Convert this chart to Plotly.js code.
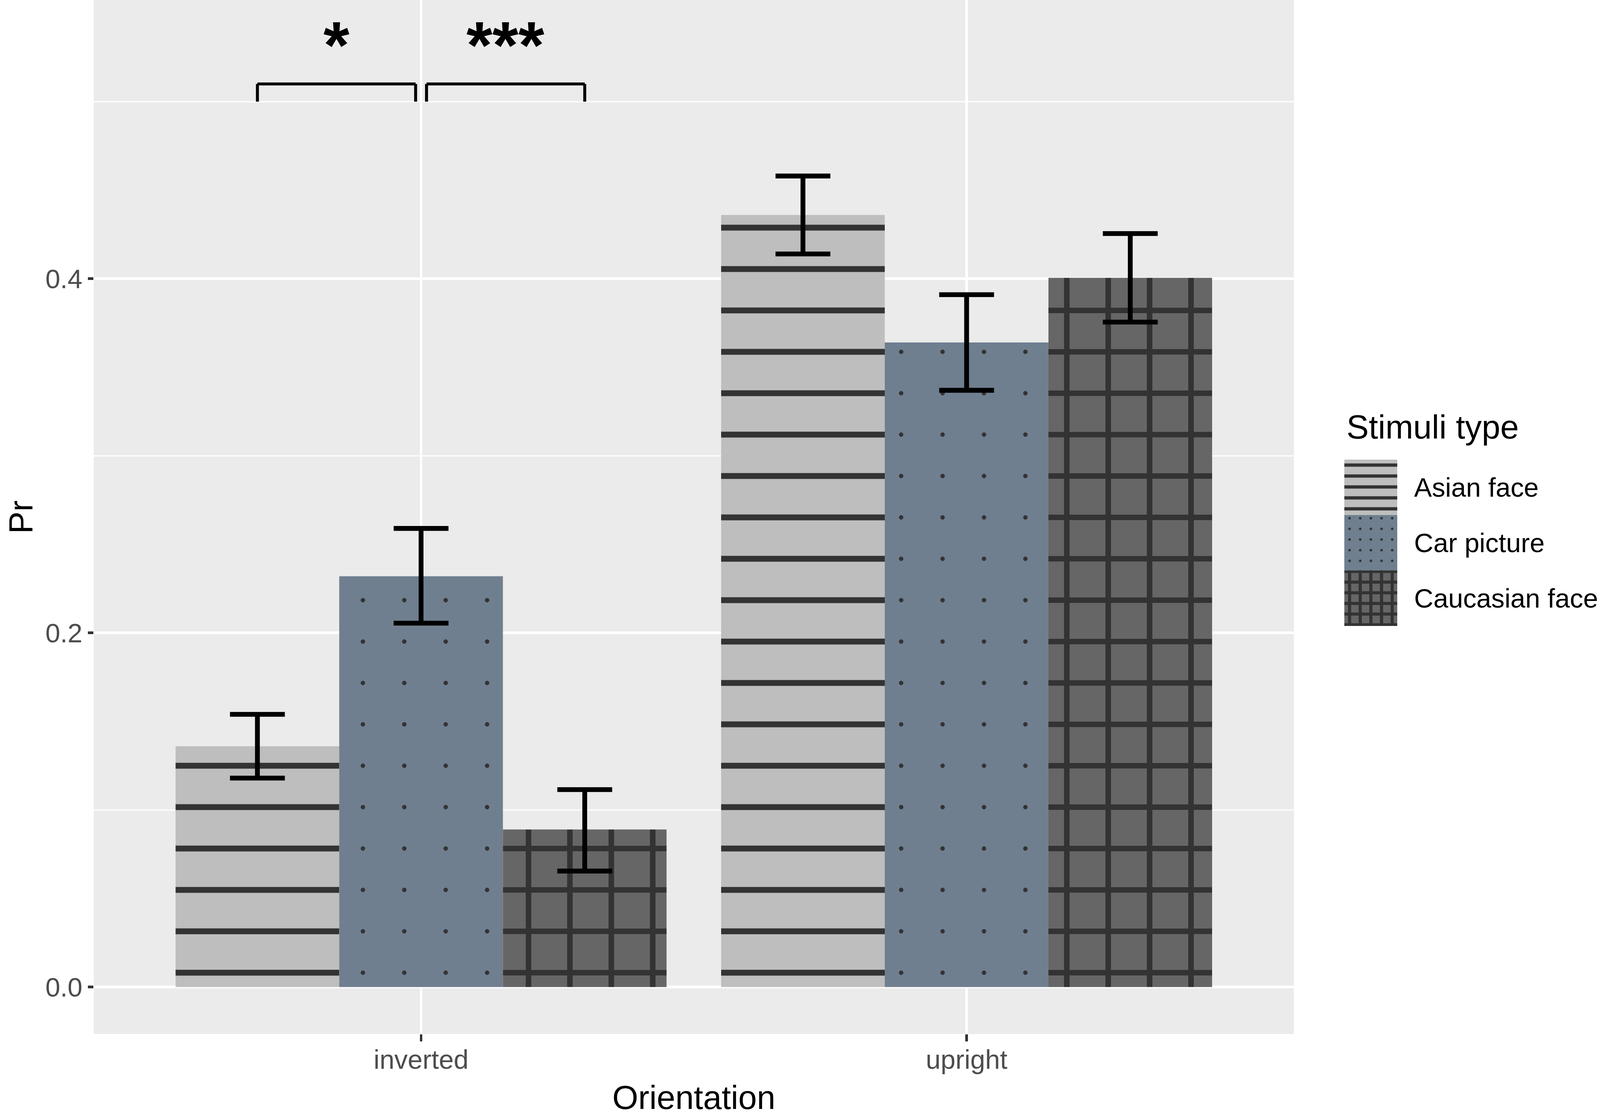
<!DOCTYPE html>
<html>
<head>
<meta charset="utf-8">
<script src="https://cdn.plot.ly/plotly-3.0.1.min.js"></script>
<style>
  html, body { margin: 0; padding: 0; background: #fff; overflow: hidden; }
</style>
</head>
<body>
<div id="myDiv"></div>
<script>
// values (mean Pr and error bar ends)
var categories = ['inverted', 'upright'];
var seriesNames = ['Asian face', 'Car picture', 'Caucasian face'];

var asianPr = [0.136, 0.436];
var asianHi = [0.154, 0.458];
var asianLo = [0.118, 0.414];

var carPr = [0.232, 0.364];
var carHi = [0.259, 0.391];
var carLo = [0.2055, 0.337];

var caucPr = [0.089, 0.4005];
var caucHi = [0.1115, 0.4255];
var caucLo = [0.0655, 0.3755];

// significance brackets (category index units)
var sigXmin = [-0.3, 0.01];
var sigXmax = [-0.01, 0.3];
var sigY = [0.51, 0.51];
var sigLabels = ['*', '***'];
var sigTip = 0.01;

// fit the page to whatever viewport we get (designed for 4317x2858)
var W = window.innerWidth || 4317;
var H = window.innerHeight || 2858;
var sx = W / 4317, sy = H / 2858, s = Math.min(sx, sy), sm = (sx + sy) / 2;
document.getElementById('myDiv').style.width = W + 'px';
document.getElementById('myDiv').style.height = H + 'px';

var FONT = 'Liberation Sans, Arial, sans-serif';
var INK = '#333333';

function fillMarker(fill, shape, size, solidity) {
  return {
    color: fill,
    line: { width: 0 },
    pattern: { shape: shape, size: size, solidity: solidity, fgcolor: INK, bgcolor: fill, fgopacity: 1 }
  };
}

function barTrace(name, y, hi, lo, marker) {
  return {
    type: 'bar',
    name: name,
    x: categories,
    y: y,
    marker: marker,
    error_y: {
      type: 'data',
      symmetric: false,
      array: hi.map(function (v, i) { return v - y[i]; }),
      arrayminus: lo.map(function (v, i) { return y[i] - v; }),
      color: '#000000',
      thickness: 13 * s,
      width: 74 * sx
    },
    showlegend: false,
    hoverinfo: 'skip'
  };
}

// legend keys drawn as bars in a small side panel
function keyTrace(name, marker) {
  return {
    type: 'bar',
    orientation: 'h',
    x: [1],
    y: [name],
    width: 1,
    offset: -0.5,
    xaxis: 'x2',
    yaxis: 'y2',
    marker: marker,
    showlegend: false,
    hoverinfo: 'skip'
  };
}

var data = [
  barTrace(seriesNames[0], asianPr, asianHi, asianLo, fillMarker('#BEBEBE', '-', 106 * sy, 0.14)),
  barTrace(seriesNames[1], carPr, carHi, carLo, fillMarker('#6F7F8F', '.', 106 * sy, 0.009)),
  barTrace(seriesNames[2], caucPr, caucHi, caucLo, fillMarker('#666666', '+', 106 * sy, 0.25)),
  keyTrace(seriesNames[0], fillMarker('#BEBEBE', '-', 28 * sy, 0.3)),
  keyTrace(seriesNames[1], fillMarker('#6F7F8F', '.', 28 * sm, 0.045)),
  keyTrace(seriesNames[2], fillMarker('#666666', '+', 28 * sm, 0.5))
];

var shapes = [{
  type: 'rect', xref: 'x domain', yref: 'y domain',
  x0: 0, x1: 1, y0: 0, y1: 1,
  fillcolor: '#EBEBEB', line: { width: 0 }, layer: 'below'
}];
var annotations = [];

sigLabels.forEach(function (lab, i) {
  var ln = { color: '#000000', width: 8 * s };
  shapes.push({ type: 'line', xref: 'x', yref: 'y', x0: sigXmin[i], x1: sigXmax[i], y0: sigY[i], y1: sigY[i], line: ln });
  shapes.push({ type: 'line', xref: 'x', yref: 'y', x0: sigXmin[i], x1: sigXmin[i], y0: sigY[i] - sigTip, y1: sigY[i], line: ln });
  shapes.push({ type: 'line', xref: 'x', yref: 'y', x0: sigXmax[i], x1: sigXmax[i], y0: sigY[i] - sigTip, y1: sigY[i], line: ln });
  annotations.push({
    x: (sigXmin[i] + sigXmax[i]) / 2, y: sigY[i], xref: 'x', yref: 'y',
    text: lab, showarrow: false, yanchor: 'bottom', yshift: 2 * sy,
    font: { family: FONT, size: 180 * s, color: '#000000', weight: 'bold' }
  });
});

annotations.push({
  xref: 'paper', yref: 'paper', x: 0.8312, y: 0.5872,
  xanchor: 'left', yanchor: 'middle', showarrow: false,
  text: 'Stimuli type',
  font: { family: FONT, size: 90 * s, color: '#000000' }
});

// y axis title, placed by hand so it can sit in the far left margin
annotations.push({
  xref: 'paper', yref: 'paper', x: -0.0485, y: 0.5,
  xanchor: 'center', yanchor: 'middle', showarrow: false,
  textangle: -90,
  text: 'Pr',
  font: { family: FONT, size: 90 * s, color: '#000000' }
});

var layout = {
  width: W,
  height: H,
  margin: { l: 253 * sx, r: 0, t: 0, b: 210 * sy, pad: 0 },
  paper_bgcolor: '#FFFFFF',
  plot_bgcolor: 'rgba(0,0,0,0)',
  font: { family: FONT, color: '#000000' },
  barmode: 'group',
  bargap: 0.1,
  bargroupgap: 0,
  showlegend: false,
  xaxis: {
    domain: [0, 0.7968],
    type: 'category',
    range: [-0.6, 1.6],
    showgrid: true,
    gridcolor: '#FFFFFF',
    gridwidth: 7 * s,
    zeroline: false,
    showline: false,
    ticks: 'outside',
    ticklen: 18 * sy,
    tickwidth: 7 * s,
    tickcolor: INK,
    ticklabelstandoff: -12,
    tickfont: { family: FONT, size: 72 * s, color: '#4D4D4D' },
    title: { text: 'Orientation', standoff: 44 * sy, font: { family: FONT, size: 90 * s, color: '#000000' } }
  },
  yaxis: {
    domain: [0, 1],
    range: [-0.0265, 0.5574],
    tick0: 0,
    dtick: 0.2,
    tickformat: '.1f',
    showgrid: true,
    gridcolor: '#FFFFFF',
    gridwidth: 7 * s,
    minor: { tick0: 0, dtick: 0.1, showgrid: true, gridcolor: '#FFFFFF', gridwidth: 3.5 * s, ticks: '' },
    zeroline: false,
    showline: false,
    ticks: 'outside',
    ticklen: 15 * sx,
    tickwidth: 7 * s,
    tickcolor: INK,
    ticklabelstandoff: 10 * sx,
    tickfont: { family: FONT, size: 72 * s, color: '#4D4D4D' }
  },
  xaxis2: {
    domain: [0.8302, 0.8654],
    anchor: 'y2',
    range: [0, 1],
    visible: false
  },
  yaxis2: {
    domain: [0.3946, 0.5555],
    anchor: 'x2',
    type: 'category',
    categoryorder: 'array',
    categoryarray: [seriesNames[2], seriesNames[1], seriesNames[0]],
    range: [-0.5, 2.5],
    side: 'right',
    showgrid: false,
    zeroline: false,
    showline: false,
    ticks: 'outside',
    ticklen: 30 * sx,
    tickcolor: 'rgba(0,0,0,0)',
    tickfont: { family: FONT, size: 72 * s, color: '#000000' }
  },
  shapes: shapes,
  annotations: annotations
};

Plotly.newPlot('myDiv', data, layout, { staticPlot: true });
</script>
</body>
</html>
